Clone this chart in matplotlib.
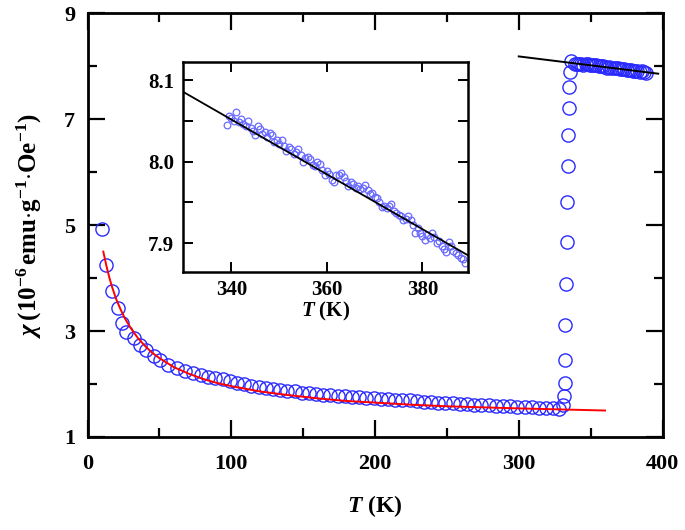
import numpy as np
import matplotlib
matplotlib.use("Agg")
import matplotlib.pyplot as plt
from matplotlib.ticker import MultipleLocator, FixedLocator, FormatStrFormatter

plt.rcParams["font.family"] = ["Liberation Serif", "DejaVu Serif"]
plt.rcParams["font.weight"] = "bold"
plt.rcParams["mathtext.fontset"] = "custom"
plt.rcParams["mathtext.rm"] = "Liberation Serif:bold"
plt.rcParams["mathtext.it"] = "Liberation Serif:italic:bold"
plt.rcParams["mathtext.bf"] = "Liberation Serif:bold"

# --- susceptibility data ---
T_low = [10, 13, 17, 21, 24, 27, 32, 36.5, 41, 46, 50.5, 56, 62, 68, 73.5, 79, 84,
         89, 94, 99, 104, 109, 114, 119, 124, 129, 134, 139, 144, 149, 154, 159,
         164, 169, 174, 179, 184, 189, 194, 199, 204, 209, 214, 219, 224, 229, 234,
         239, 244, 249, 254, 259, 264, 269, 274, 279, 284, 289, 294, 299, 304, 309,
         314, 319, 324, 328]
chi_low = [4.93, 4.25, 3.75, 3.43, 3.15, 2.99, 2.87, 2.74, 2.65, 2.52, 2.46, 2.36,
           2.30, 2.24, 2.21, 2.18, 2.14, 2.12, 2.09, 2.05, 2.02, 2.00, 1.97, 1.95,
           1.93, 1.91, 1.89, 1.87, 1.86, 1.84, 1.83, 1.82, 1.80, 1.79, 1.78, 1.77,
           1.76, 1.75, 1.74, 1.73, 1.72, 1.71, 1.70, 1.69, 1.69, 1.68, 1.67, 1.66,
           1.65, 1.64, 1.64, 1.63, 1.62, 1.61, 1.61, 1.60, 1.59, 1.59, 1.58, 1.57,
           1.56, 1.56, 1.55, 1.55, 1.54, 1.535]

# transition
T_jump = [330.6, 331.6, 332.0, 332.3, 332.5, 332.9, 333.3, 333.8, 334.3, 334.5,
          335.0, 335.3, 335.7, 336.1]
chi_jump = [1.61, 1.77, 2.02, 2.46, 3.12, 3.89, 4.69, 5.43, 6.11, 6.70,
            7.21, 7.60, 7.90, 8.09]

# high-temperature phase (also shown in the inset)
T_high = [339.0, 339.5, 340.0, 340.5, 341.0, 341.5, 342.0, 342.5, 343.0, 343.5,
          344.0, 344.5, 345.0, 345.5, 346.0, 346.5, 347.0, 347.5, 348.0, 348.5,
          349.0, 349.5, 350.0, 350.5, 351.0, 351.5, 352.0, 352.5, 353.0, 353.5,
          354.0, 354.5, 355.0, 355.5, 356.0, 356.5, 357.0, 357.5, 358.0, 358.5,
          359.0, 359.5, 360.0, 360.5, 361.0, 361.5, 362.0, 362.5, 363.0, 363.5,
          364.0, 364.5, 365.0, 365.5, 366.0, 366.5, 367.0, 367.5, 368.0, 368.5,
          369.0, 369.5, 370.0, 370.5, 371.0, 371.5, 372.0, 372.5, 373.0, 373.5,
          374.0, 374.5, 375.0, 375.5, 376.0, 376.5, 377.0, 377.5, 378.0, 378.5,
          379.0, 379.5, 380.0, 380.5, 381.0, 381.5, 382.0, 382.5, 383.0, 383.5,
          384.0, 384.5, 385.0, 385.5, 386.0, 386.5, 387.0, 387.5, 388.0, 388.5,
          389.0]
chi_high = [8.045, 8.056, 8.053, 8.050, 8.061, 8.048, 8.052, 8.046, 8.044, 8.050,
            8.041, 8.038, 8.033, 8.044, 8.040, 8.034, 8.036, 8.030, 8.035, 8.033,
            8.024, 8.027, 8.021, 8.026, 8.019, 8.013, 8.018, 8.016, 8.009, 8.012,
            8.015, 8.008, 8.000, 8.004, 8.006, 8.003, 7.996, 7.994, 7.999, 7.997,
            7.990, 7.983, 7.988, 7.985, 7.978, 7.975, 7.983, 7.984, 7.986, 7.981,
            7.976, 7.970, 7.975, 7.972, 7.968, 7.970, 7.966, 7.968, 7.971, 7.965,
            7.960, 7.962, 7.957, 7.955, 7.950, 7.944, 7.946, 7.943, 7.946, 7.948,
            7.940, 7.937, 7.935, 7.933, 7.928, 7.930, 7.933, 7.929, 7.922, 7.913,
            7.918, 7.912, 7.909, 7.904, 7.910, 7.906, 7.913, 7.908, 7.900, 7.903,
            7.897, 7.893, 7.889, 7.902, 7.896, 7.890, 7.888, 7.885, 7.882, 7.880,
            7.876]

# Curie-Weiss fit (red) and linear fit (black)
T_cw = [11, 13, 15, 17, 20, 23, 26, 30, 35, 40, 45, 50, 60, 70, 80, 90, 100, 120,
        140, 160, 180, 200, 225, 250, 275, 300, 330, 360]
chi_cw = [4.50, 4.25, 4.03, 3.84, 3.60, 3.41, 3.24, 3.06, 2.87, 2.72, 2.59, 2.49,
          2.32, 2.20, 2.10, 2.02, 1.96, 1.86, 1.79, 1.73, 1.68, 1.65, 1.61, 1.58,
          1.56, 1.54, 1.52, 1.50]
T_lin = [300, 397]
chi_lin = [8.186, 7.860]

blue = "#2b2bff"
W, H = 685, 530
fig = plt.figure(figsize=(W / 100, H / 100), dpi=100)
ax = fig.add_axes([87.5 / W, 1 - 437 / H, 575 / W, 423.7 / H])

# main panel shows a thinned subset of the high-T run
T_all = T_low + T_jump + T_high[::3]
chi_all = chi_low + chi_jump + chi_high[::3]
ax.plot(T_all, chi_all, "o", ms=9.5, mfc="none", mec=blue, mew=1.0, zorder=2)
ax.plot(T_cw, chi_cw, "-", color="#ff0000", lw=1.4, zorder=3)
ax.plot(T_lin, chi_lin, "-", color="black", lw=1.4, zorder=3)

ax.set_xlim(0, 400)
ax.set_ylim(1, 9)
ax.xaxis.set_major_locator(MultipleLocator(100))
ax.xaxis.set_minor_locator(MultipleLocator(50))
ax.yaxis.set_major_locator(FixedLocator([1, 3, 5, 7, 9]))
ax.yaxis.set_minor_locator(FixedLocator([2, 4, 6, 8]))
ax.tick_params(which="both", direction="in", top=True, right=True, width=1.6,
               labelsize=16)
ax.tick_params(axis="x", pad=12)
ax.tick_params(axis="y", pad=9)
ax.tick_params(which="major", length=12)
ax.tick_params(which="minor", length=6.5)
for s in ax.spines.values():
    s.set_linewidth(2.0)
ax.set_xlabel(r"$T$ (K)", fontsize=17, fontweight="bold", labelpad=14)
ax.set_ylabel(r"$\chi\,(10^{-6}\,\mathrm{emu{\cdot}g^{-1}{\cdot}Oe^{-1}})$",
              fontsize=18, labelpad=14)

# ---- inset ----
axi = fig.add_axes([182.7 / W, 1 - 271.7 / H, 285.6 / W, 210 / H])
axi.plot(T_high, chi_high, "o", ms=4.8, mfc="none", mec="#6a6aff", mew=0.9)
axi.plot(T_lin, chi_lin, "-", color="black", lw=1.3)
axi.set_xlim(329.8, 389.6)
axi.set_ylim(7.865, 8.1225)
axi.xaxis.set_major_locator(MultipleLocator(20))
axi.yaxis.set_major_locator(MultipleLocator(0.1))
axi.yaxis.set_minor_locator(MultipleLocator(0.05))
axi.yaxis.set_major_formatter(FormatStrFormatter("%.1f"))
axi.tick_params(which="both", direction="in", top=True, right=True, width=1.4,
                labelsize=15, pad=6)
axi.tick_params(which="major", length=7)
axi.tick_params(which="minor", length=7)
for s in axi.spines.values():
    s.set_linewidth(1.8)
axi.set_xlabel(r"$T$ (K)", fontsize=15, fontweight="bold", labelpad=0)

fig.savefig("out.png", dpi=100)
